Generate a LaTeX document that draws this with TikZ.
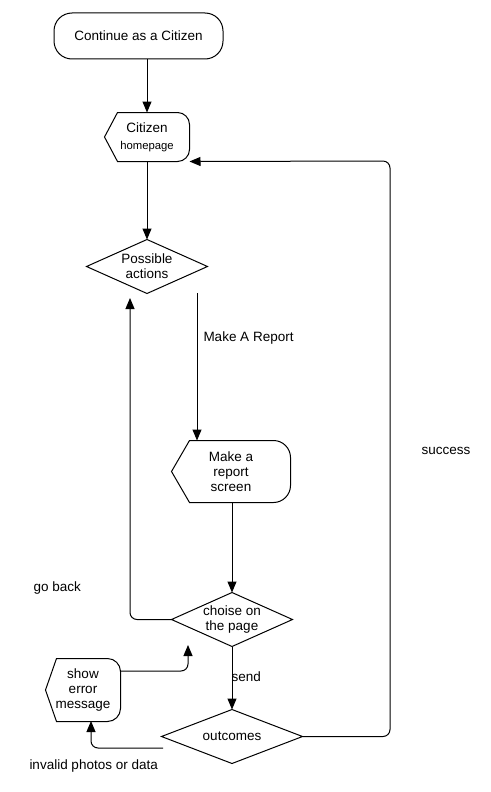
\documentclass[tikz,border=0pt]{standalone}
\usepackage{fontspec}
\setmainfont{Liberation Sans}
\usetikzlibrary{arrows.meta}
\newcommand\drawdisp[3]{%
  \draw (#1.west) -- ([xshift=#2]#1.north west) -- ([xshift=-#3]#1.north east)
    .. controls ([xshift={-0.45*#3}]#1.north east) and ([yshift={-0.45*#3}]#1.north east) .. ([yshift=-#3]#1.north east)
    -- ([yshift=#3]#1.south east)
    .. controls ([yshift={0.45*#3}]#1.south east) and ([xshift={-0.45*#3}]#1.south east) .. ([xshift=-#3]#1.south east)
    -- ([xshift=#2]#1.south west) -- cycle;}
\newcommand\drawdiam[1]{%
  \draw (#1.north) -- (#1.east) -- (#1.south) -- (#1.west) -- cycle;}
\begin{document}
\begin{tikzpicture}[x=1pt,y=-1pt,line width=1pt,
  >={Triangle[length=11pt,width=9pt]},
  txt/.style={font=\fontsize{13.5}{15}\selectfont,align=center,inner sep=0pt},
  lbl/.style={font=\fontsize{13.5}{15}\selectfont,anchor=west,inner sep=0pt},
  box/.style={txt,rectangle,minimum width=#1},
  conn/.style={->,rounded corners=7pt}]
\useasboundingbox[fill=white] (0,0) rectangle (490,792);

% nodes
\node[txt,draw,rounded corners=18pt,minimum width=169pt,minimum height=46pt] (st) at (138.5,36) {Continue as a Citizen};
\node[box=84pt,minimum height=48pt] (home) at (147,137) {Citizen\\[2pt]{\fontsize{11.3}{13}\selectfont homepage}};
\node[box=120pt,minimum height=53pt] (pa) at (147,266.5) {Possible\\actions};
\node[box=118pt,minimum height=61pt] (mrs) at (231,471.5) {Make a\\report\\screen};
\node[box=120pt,minimum height=53pt] (cp) at (232,619.5) {choise on\\the page};
\node[box=74pt,minimum height=62pt] (se) at (83,690) {show\\error\\message};
\node[box=140pt,minimum height=53pt] (oc) at (232,736.5) {outcomes};

\drawdisp{home}{13pt}{12pt}
\drawdisp{mrs}{18pt}{17pt}
\drawdisp{se}{11pt}{13pt}
\drawdiam{pa}
\drawdiam{cp}
\drawdiam{oc}

% free ends
\coordinate (gb) at (130,298);
\coordinate (mr0) at (197,293);
\coordinate (e1) at (188,645);
\coordinate (iv0) at (163,748);
\coordinate (iv1) at (91,721);
\coordinate (sc) at (390,161);

% connectors
\draw[->] (st.south -| home.north) -- (home.north);
\draw[->] (home.south) -- (pa.north);
\draw[->] (mr0) -- (mr0 |- mrs.north);
\draw[->] (mrs.south -| cp.north) -- (cp.north);
\draw[conn] (cp.west) -| (gb);
\draw[->] (cp.south) -- (oc.north);
\draw[conn] ([yshift=19pt]se.east) -| (e1);
\draw[conn] (iv0) -| (iv1);
\draw[conn] (oc.east) -| (sc) -- (home.south east);

% labels
\node[lbl] (lmr) at (203,338.5) {Make A Report};
\node[lbl] (lgb) at (33,588.5) {go back};
\node[lbl] (lsd) at (231,677) {send};
\node[lbl] (lsc) at (421,450.5) {success};
\node[lbl] (liv) at (29,765.5) {invalid photos or data};
\end{tikzpicture}
\end{document}
